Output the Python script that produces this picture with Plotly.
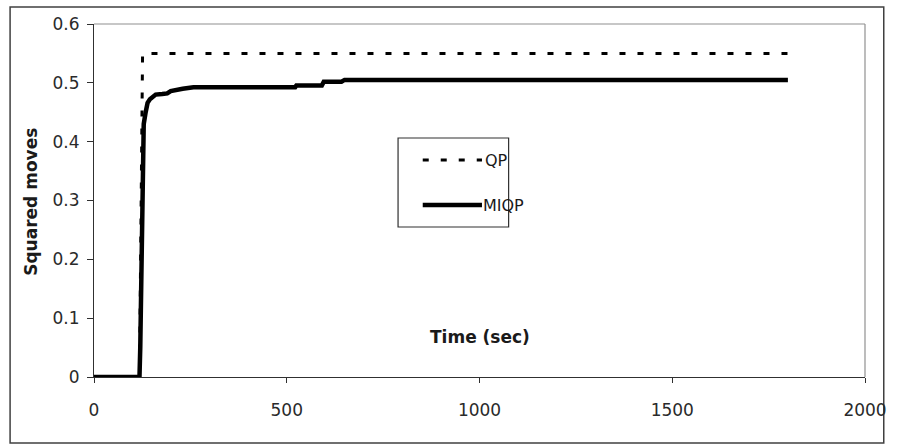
import plotly.graph_objects as go

# ---- data ----
qp_t = [0, 118, 126, 1800]
qp_y = [0, 0, 0.55, 0.55]

miqp_t = [0, 118, 120, 126, 129, 134, 139, 145, 152, 160, 177, 190, 199, 211, 230, 258,
          522, 525, 591, 596, 642, 650, 1800]
miqp_y = [0, 0, 0.05, 0.30, 0.43, 0.45, 0.466, 0.472, 0.477, 0.480, 0.481, 0.482, 0.486,
          0.488, 0.490, 0.4925, 0.4927, 0.4955, 0.4955, 0.502, 0.502, 0.505, 0.505]

series_names = ["QP", "MIQP"]
x_ticks = [0, 500, 1000, 1500, 2000]
y_ticks = [0, 0.1, 0.2, 0.3, 0.4, 0.5, 0.6]

W, H = 899, 444
L, R, T, B = 94, 875, 24, 377


def px(x):
    return (x - L) / (R - L)


def py(y):
    return (B - y) / (B - T)


FONT = "DejaVu Sans, Verdana, sans-serif"
TXT = "#1a1a1a"

fig = go.Figure()
fig.add_trace(go.Scatter(x=qp_t, y=qp_y, mode="lines", name=series_names[0],
                         line=dict(color="black", width=3, dash="6px,12px"),
                         showlegend=False))
fig.add_trace(go.Scatter(x=miqp_t, y=miqp_y, mode="lines", name=series_names[1],
                         line=dict(color="black", width=4.5),
                         showlegend=False))

shapes = [
    # outer chart border
    dict(type="rect", xref="paper", yref="paper", x0=px(9), x1=px(894), y0=py(443), y1=py(7),
         line=dict(color="#404040", width=1.5), layer="below"),
    # plot frame top and right (gray)
    dict(type="line", xref="paper", yref="paper", x0=0, x1=1, y0=1, y1=1,
         line=dict(color="#909090", width=1.2)),
    dict(type="line", xref="paper", yref="paper", x0=1, x1=1, y0=0, y1=1,
         line=dict(color="#909090", width=1.2)),
    # legend box
    dict(type="rect", xref="paper", yref="paper", x0=px(402), x1=px(514), y0=py(227), y1=py(138),
         line=dict(color="#303030", width=1.2), fillcolor="white"),
    # legend samples
    dict(type="line", xref="paper", yref="paper", x0=px(427), x1=px(487), y0=py(160), y1=py(160),
         line=dict(color="black", width=3, dash="6px,12px")),
    dict(type="line", xref="paper", yref="paper", x0=px(427), x1=px(487), y0=py(205), y1=py(205),
         line=dict(color="black", width=4.5)),
]

annotations = [
    dict(text=series_names[0], xref="paper", yref="paper", x=px(488), y=py(160),
         xanchor="left", yanchor="middle", showarrow=False,
         font=dict(family=FONT, size=16, color=TXT)),
    dict(text=series_names[1], xref="paper", yref="paper", x=px(486), y=py(205),
         xanchor="left", yanchor="middle", showarrow=False,
         font=dict(family=FONT, size=16, color=TXT)),
    dict(text="<b>Time (sec)</b>", xref="paper", yref="paper", x=px(485), y=py(337),
         xanchor="center", yanchor="middle", showarrow=False,
         font=dict(family=FONT, size=17, color=TXT)),
    dict(text="<b>Squared moves</b>", xref="paper", yref="paper", x=px(30), y=py(202),
         xanchor="center", yanchor="middle", showarrow=False, textangle=-90,
         font=dict(family=FONT, size=17, color=TXT)),
]

fig.update_layout(
    width=W, height=H,
    margin=dict(l=L, r=W - R, t=T, b=H - B, pad=0),
    paper_bgcolor="white", plot_bgcolor="white",
    showlegend=False,
    shapes=shapes, annotations=annotations,
    xaxis=dict(range=[0, 2000], tickvals=x_ticks, ticktext=[str(v) for v in x_ticks],
               showgrid=False, zeroline=False, showline=True, linecolor="#303030", linewidth=1.2,
               ticks="outside", ticklen=5, tickcolor="#303030", ticklabelstandoff=12,
               tickfont=dict(family=FONT, size=17, color="#2a2a2a")),
    yaxis=dict(range=[0, 0.6], tickvals=y_ticks, ticktext=[f"{v:g}" for v in y_ticks],
               showgrid=False, zeroline=False, showline=True, linecolor="#303030", linewidth=1.2,
               ticks="outside", ticklen=6, tickcolor="#303030", ticklabelstandoff=4,
               tickfont=dict(family=FONT, size=17, color="#2a2a2a")),
)

fig.write_html("out.html")
